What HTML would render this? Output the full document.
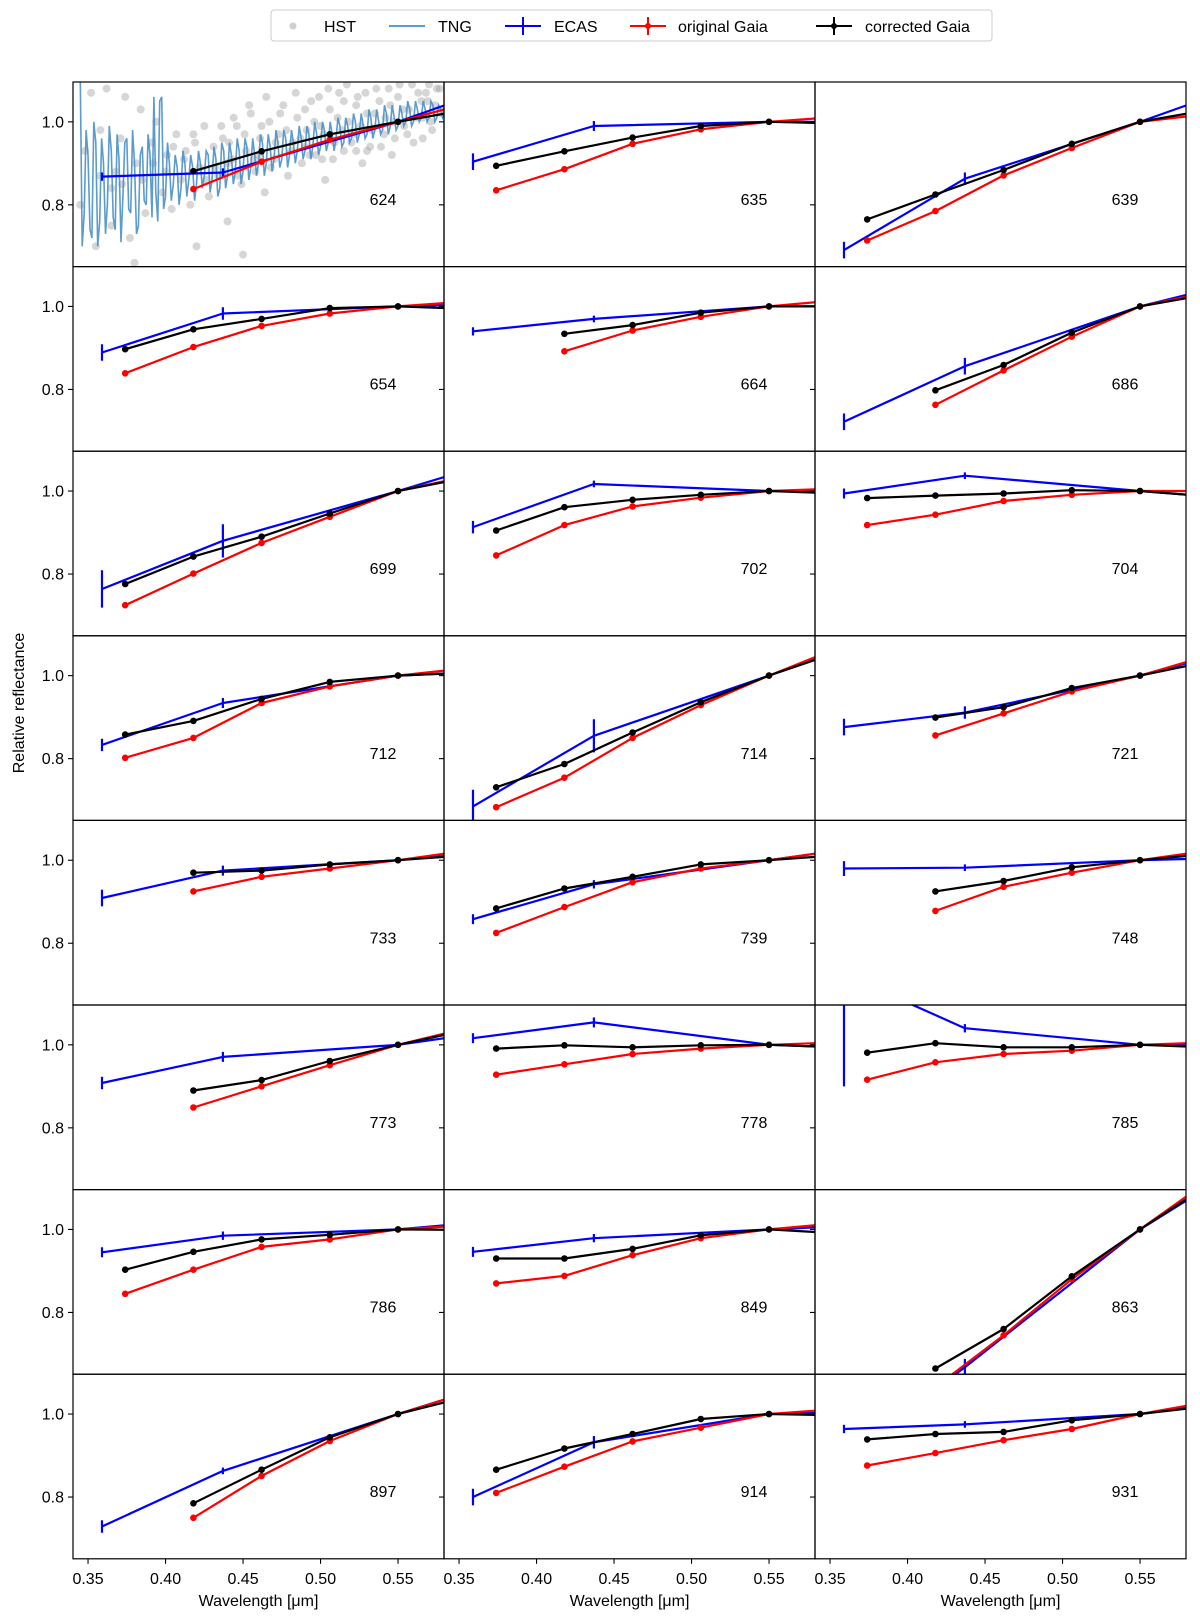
<!DOCTYPE html>
<html><head><meta charset="utf-8"><style>
html,body{margin:0;padding:0;background:#fff;}
svg{display:block;font-family:"Liberation Sans","DejaVu Sans",sans-serif;}
</style></head><body>
<svg id="fig" width="1200" height="1624" viewBox="0 0 1200 1624" xmlns="http://www.w3.org/2000/svg">
<rect x="0" y="0" width="1200" height="1624" fill="#fff"/>
<g id="legend">
<rect x="271" y="10" width="721" height="31" rx="3" fill="#fff" stroke="#ccc" stroke-width="1"/>
<circle cx="293" cy="26" r="3.5" fill="#bbb" opacity="0.7"/>
<text x="324" y="32" font-size="16">HST</text>
<line x1="389" y1="26" x2="425" y2="26" stroke="#5a9bd0" stroke-width="2"/>
<text x="438" y="32" font-size="16">TNG</text>
<line x1="505" y1="26" x2="541" y2="26" stroke="#0000ff" stroke-width="2"/>
<line x1="523" y1="17" x2="523" y2="35" stroke="#0000ff" stroke-width="2"/>
<text x="554" y="32" font-size="16">ECAS</text>
<line x1="630" y1="26" x2="666" y2="26" stroke="#ff0000" stroke-width="2"/>
<line x1="648" y1="17" x2="648" y2="35" stroke="#ff0000" stroke-width="2"/>
<circle cx="648" cy="26" r="3" fill="#ff0000"/>
<text x="678" y="32" font-size="16">original Gaia</text>
<line x1="816" y1="26" x2="852" y2="26" stroke="#000" stroke-width="2"/>
<line x1="834" y1="17" x2="834" y2="35" stroke="#000" stroke-width="2"/>
<circle cx="834" cy="26" r="3" fill="#000"/>
<text x="865" y="32" font-size="16">corrected Gaia</text>
</g>
<text transform="translate(24,703) rotate(-90)" text-anchor="middle" font-size="16">Relative reflectance</text>
</svg>
<script>
const panelIds = ['624','635','639','654','664','686','699','702','704','712','714','721','733','739','748','773','778','785','786','849','863','897','914','931'];
const gaiaWl = [0.374,0.418,0.462,0.506,0.550,0.594];
const ecasWl = [0.359,0.437,0.550,0.701];
const ecasVals = [
[0.868,0.878,1,1.20],[0.904,0.990,1,1.0],[0.691,0.863,1,1.20],
[0.889,0.983,1,1.015],[0.940,0.970,1,1.0],[0.722,0.856,1,1.14],
[0.764,0.88,1,1.17],[0.913,1.017,1,1.0],[0.994,1.037,1,0.955],
[0.833,0.934,1,1.025],[0.685,0.855,1,1.20],[0.876,0.911,1,1.15],
[0.909,0.975,1,1.05],[0.858,0.942,1,1.08],[0.98,0.982,1,1.015],
[0.908,0.971,1,1.08],[1.016,1.054,1,0.98],[1.17,1.04,1,0.995],
[0.945,0.985,1,1.05],[0.946,0.979,1,1.025],[0.45,0.668,1,1.35],
[0.729,0.863,1,1.176],[0.8,0.932,1,1.015],[0.964,0.975,1,1.075]];
const ecasErrs = [
[0.01,0.01,0,0],[0.02,0.012,0,0],[0.02,0.015,0,0],
[0.02,0.015,0,0],[0.01,0.008,0,0],[0.02,0.02,0,0],
[0.045,0.04,0,0],[0.015,0.008,0,0],[0.012,0.008,0,0],
[0.015,0.012,0,0],[0.04,0.04,0,0],[0.02,0.015,0,0],
[0.02,0.012,0,0],[0.012,0.01,0,0],[0.018,0.008,0,0],
[0.015,0.012,0,0],[0.012,0.012,0,0],[0.27,0.01,0,0],
[0.012,0.01,0,0],[0.012,0.01,0,0],[0.02,0.02,0,0],
[0.015,0.008,0,0],[0.02,0.015,0,0],[0.01,0.008,0,0]];
const origGaia = [
[null,0.838,0.904,0.957,1,1.044],[0.835,0.886,0.947,0.982,1,1.012],[0.714,0.785,0.871,0.937,1,1.019],
[0.839,0.902,0.953,0.983,1,1.012],[null,0.892,0.942,0.975,1,1.015],[null,0.763,0.846,0.927,1,1.034],
[0.725,0.801,0.875,0.938,1,1.035],[0.845,0.918,0.963,0.984,1,1.006],[0.918,0.943,0.976,0.991,1,1.0],
[0.802,0.85,0.934,0.974,1,1.018],[0.683,0.754,0.85,0.929,1,1.066],[null,0.856,0.909,0.962,1,1.048],
[null,0.925,0.96,0.98,1,1.023],[0.825,0.887,0.947,0.98,1,1.023],[null,0.878,0.936,0.97,1,1.023],
[null,0.849,0.9,0.951,1,1.04],[0.928,0.953,0.978,0.991,1,1.006],[0.916,0.958,0.978,0.986,1,1.006],
[0.845,0.903,0.958,0.976,1,1.01],[0.87,0.888,0.938,0.979,1,1.015],[null,0.62,0.745,0.88,1,1.117],
[null,0.75,0.851,0.935,1,1.051],[0.81,0.873,0.934,0.967,1,1.012],[0.876,0.906,0.937,0.964,1,1.029]];
const corrGaia = [
[null,0.881,0.929,0.970,1,1.029],[0.894,0.929,0.962,0.990,1,0.996],[0.765,0.825,0.884,0.947,1,1.029],
[0.897,0.945,0.970,0.996,1,0.994],[null,0.934,0.955,0.985,1,1.0],[null,0.798,0.859,0.937,1,1.029],
[0.776,0.842,0.89,0.946,1,1.032],[0.905,0.961,0.979,0.991,1,0.994],[0.983,0.989,0.994,1.002,1,0.987],
[0.858,0.891,0.944,0.985,1,1.007],[0.731,0.787,0.863,0.936,1,1.056],[null,0.899,0.924,0.970,1,1.034],
[null,0.970,0.975,0.99,1,1.012],[0.884,0.932,0.96,0.99,1,1.012],[null,0.925,0.95,0.983,1,1.015],
[null,0.89,0.915,0.961,1,1.035],[0.991,0.999,0.994,0.999,1,0.994],[0.981,1.004,0.994,0.994,1,0.994],
[0.903,0.946,0.976,0.987,1,0.999],[0.93,0.93,0.953,0.986,1,0.991],[null,0.665,0.76,0.887,1,1.107],
[null,0.785,0.866,0.944,1,1.041],[0.866,0.917,0.952,0.988,1,0.997],[0.939,0.952,0.957,0.985,1,1.019]];
const tngVals = [1.10,0.78,0.92,0.72,0.95,0.76,0.90,0.80,0.93,0.74,0.91,0.82,0.96,0.78,0.90,0.75,0.94,0.80,0.92,1.06,0.76,1.06,0.82,0.90,0.85,0.89,0.84,0.90,0.86,0.89,0.85,0.90,0.87,0.92,0.86,0.91,0.84,0.93,0.87,0.92,0.88,0.93,0.88,0.94,0.89,0.92,0.90,0.95,0.90,0.94,0.91,0.95,0.91,0.96,0.92,0.95,0.93,0.96,0.93,0.97,0.94,0.97,0.94,0.98,0.95,0.97,0.96,0.99,0.95,0.99,0.96,1.00,0.97,0.99,0.97,1.01,0.98,1.00,0.98,1.02,0.99,1.01,0.99,1.02,1.00,1.03,1.00,1.03,1.01,1.03,1.01,1.04,1.01,1.03,1.02];
const tngVals2 = [0.70,0.98,0.74,1.00,0.70,0.96,0.73,0.99,0.77,0.97,0.71,0.95,0.79,0.98,0.73,0.92,0.81,0.97,0.77,0.83,1.05,0.79,0.95,0.81,0.92,0.80,0.93,0.82,0.92,0.81,0.93,0.84,0.93,0.83,0.94,0.82,0.95,0.84,0.95,0.85,0.96,0.85,0.96,0.86,0.96,0.87,0.97,0.87,0.97,0.88,0.98,0.89,0.98,0.89,0.98,0.90,0.99,0.91,0.99,0.91,1.00,0.92,1.00,0.93,1.00,0.93,1.01,0.94,1.01,0.95,1.02,0.95,1.02,0.96,1.03,0.96,1.03,0.97,1.04,0.97,1.04,0.98,1.04,0.99,1.05,0.99,1.05,1.00,1.05,1.00,1.05,1.00,1.04,1.01,1.04];
const tngStart = 0.345, tngStep = 0.0025;
const hstWl = [0.345,0.348,0.352,0.355,0.358,0.362,0.365,0.368,0.371,0.374,0.377,0.381,0.384,0.387,0.391,0.394,0.398,0.401,0.404,0.407,0.410,0.413,0.416,0.419,0.422,0.425,0.428,0.431,0.434,0.437,0.440,0.443,0.446,0.449,0.452,0.455,0.458,0.461,0.464,0.467,0.470,0.473,0.476,0.479,0.482,0.485,0.488,0.491,0.494,0.497,0.500,0.503,0.506,0.509,0.512,0.515,0.518,0.521,0.524,0.527,0.530,0.533,0.536,0.539,0.542,0.545,0.548,0.551,0.554,0.557,0.560,0.563,0.566,0.569,0.572,0.575,0.578,0.420,0.450,0.380,0.365,0.515,0.530,0.570,0.400,0.460,0.490,0.440,
0.441,0.444,0.447,0.451,0.454,0.457,0.462,0.465,0.468,0.471,0.474,0.478,0.481,0.484,0.487,0.490,0.493,0.496,0.499,0.502,0.505,0.508,0.511,0.514,0.517,0.520,0.523,0.526,0.529,0.532,0.535,0.538,0.541,0.544,0.547,0.550,0.553,0.556,0.559,0.562,0.565,0.568,0.571,0.574,0.577,0.579,0.405,0.412,0.418,0.426,0.432,0.436,0.385,0.392,0.358,0.372,0.501,0.523,0.546,0.566];
const hstVals = [0.80,0.93,1.07,0.70,0.98,1.08,0.75,0.88,0.96,1.06,0.72,0.90,1.03,0.78,0.95,1.00,0.83,0.92,0.79,0.97,0.86,0.93,0.80,0.95,0.89,0.99,0.82,0.94,0.87,0.96,0.76,0.91,0.99,0.85,0.93,1.02,0.88,0.96,0.83,1.00,0.91,0.97,1.04,0.87,0.95,1.01,0.90,0.98,1.05,0.92,0.99,0.86,1.03,0.95,1.07,0.93,1.00,0.97,1.06,0.90,1.02,0.98,1.08,0.94,1.01,1.04,0.96,1.09,0.99,1.03,0.95,1.07,1.01,1.05,0.98,1.08,1.02,0.70,0.68,0.66,0.84,1.05,0.93,1.09,0.88,0.92,0.94,0.90,
0.95,1.01,0.87,0.97,1.04,0.91,0.99,1.06,0.89,0.95,1.02,0.98,0.93,1.07,0.96,1.03,0.92,1.00,1.06,0.97,1.08,0.91,1.01,0.98,1.09,0.95,1.04,0.99,1.07,0.94,1.02,1.05,0.97,1.08,1.00,1.06,1.03,0.97,1.09,1.01,1.05,1.07,1.00,1.04,1.08,1.03,0.94,0.91,0.97,0.86,0.89,0.99,0.86,0.90,0.87,0.85,0.91,0.93,0.92,0.96];
const yTickVals = [0.8,1.0];
const yTickLabels = ['0.8','1.0'];
const xTickVals = [0.35,0.40,0.45,0.50,0.55];
const xTickLabels = ['0.35','0.40','0.45','0.50','0.55'];

const NS='http://www.w3.org/2000/svg';
const svg=document.getElementById('fig');
const COLW=371, ROWH=184.6, X0=73, Y0=82, XMIN=0.3403, XSC=1550, YMAX=1.096, YSC=415;
function mk(tag,attrs,parent){const e=document.createElementNS(NS,tag);for(const k in attrs)e.setAttribute(k,attrs[k]);(parent||svg).appendChild(e);return e;}
function xf(L,w){return L+(w-XMIN)*XSC;}
function yf(T,v){return T+(YMAX-v)*YSC;}
const defs=mk('defs',{});
function poly(g,L,T,ws,vs,color,markers,name){
  const pts=[];
  for(let i=0;i<ws.length;i++){if(vs[i]===null||vs[i]===undefined)continue;pts.push([xf(L,ws[i]),yf(T,vs[i])]);}
  const pl=mk('polyline',{points:pts.map(p=>p[0].toFixed(1)+','+p[1].toFixed(1)).join(' '),fill:'none',stroke:color,'stroke-width':2.2,'stroke-linejoin':'round'},g);
  
  
  if(markers){pts.forEach(p=>{const c=mk('circle',{cx:p[0].toFixed(1),cy:p[1].toFixed(1),r:3.3,fill:color},g);
    
    });}
}
panelIds.forEach((id,k)=>{
  const r=Math.floor(k/3), c=k%3;
  const L=X0+c*COLW, T=Y0+r*ROWH;
  const cp=mk('clipPath',{id:'cp'+k},defs);
  mk('rect',{x:L,y:T,width:COLW,height:ROWH},cp);
  const pg=mk('g',{});
  
  
  const g=mk('g',{'clip-path':'url(#cp'+k+')'},pg);
  if(k===0){
    hstWl.forEach((w,i)=>{const c2=mk('circle',{cx:xf(L,w).toFixed(1),cy:yf(T,hstVals[i]).toFixed(1),r:4,fill:'#999',opacity:0.4},g);
      
      });
    const pts=[];
    tngVals.forEach((v,i)=>{const w=tngStart+i*tngStep;
      pts.push(xf(L,w).toFixed(1)+','+yf(T,v).toFixed(1));
      if(i<tngVals2.length){pts.push(xf(L,w+tngStep/2).toFixed(1)+','+yf(T,tngVals2[i]).toFixed(1));}});
    const tp=mk('polyline',{points:pts.join(' '),fill:'none',stroke:'#4a90c8','stroke-width':1.6,opacity:0.9},g);
    
    
  }
  poly(g,L,T,ecasWl,ecasVals[k],'#0000ff',false,'ecas');
  ecasWl.forEach((w,i)=>{const e=ecasErrs[k][i];if(e>0){
    const eb=mk('line',{x1:xf(L,w),x2:xf(L,w),y1:yf(T,ecasVals[k][i]+e),y2:yf(T,ecasVals[k][i]-e),stroke:'#0000ff','stroke-width':2.2},g);
    
    }});
  poly(g,L,T,gaiaWl,origGaia[k],'#ff0000',true,'original-gaia');
  poly(g,L,T,gaiaWl,corrGaia[k],'#000000',true,'corrected-gaia');
  const fr=mk('rect',{x:L,y:T,width:COLW,height:ROWH,fill:'none',stroke:'#000','stroke-width':1.2},pg);
  
  
  const lab=mk('text',{x:L+310,y:T+123,'text-anchor':'middle','font-size':16},pg);
  lab.textContent=id;
  
  
  yTickVals.forEach((v,i)=>{const yy=yf(T,v);
    const tk=mk('line',{x1:L-5,x2:L,y1:yy,y2:yy,stroke:'#000','stroke-width':1.1},pg);
    
    
    if(c===0){const t=mk('text',{x:L-9,y:yy+5.5,'text-anchor':'end','font-size':16},pg);t.textContent=yTickLabels[i];
      
      }});
  if(r===7){
    xTickVals.forEach((w,i)=>{const xx=xf(L,w);
      const tk=mk('line',{x1:xx,x2:xx,y1:T+ROWH,y2:T+ROWH+5,stroke:'#000','stroke-width':1.1},pg);
      
      
      const t=mk('text',{x:xx,y:T+ROWH+25,'text-anchor':'middle','font-size':16},pg);t.textContent=xTickLabels[i];
      
      });
    const xl=mk('text',{x:L+COLW/2,y:1606,'text-anchor':'middle','font-size':16},pg);
    xl.textContent='Wavelength [\u03BCm]';
    
    
  }
});
</script>
</body></html>
